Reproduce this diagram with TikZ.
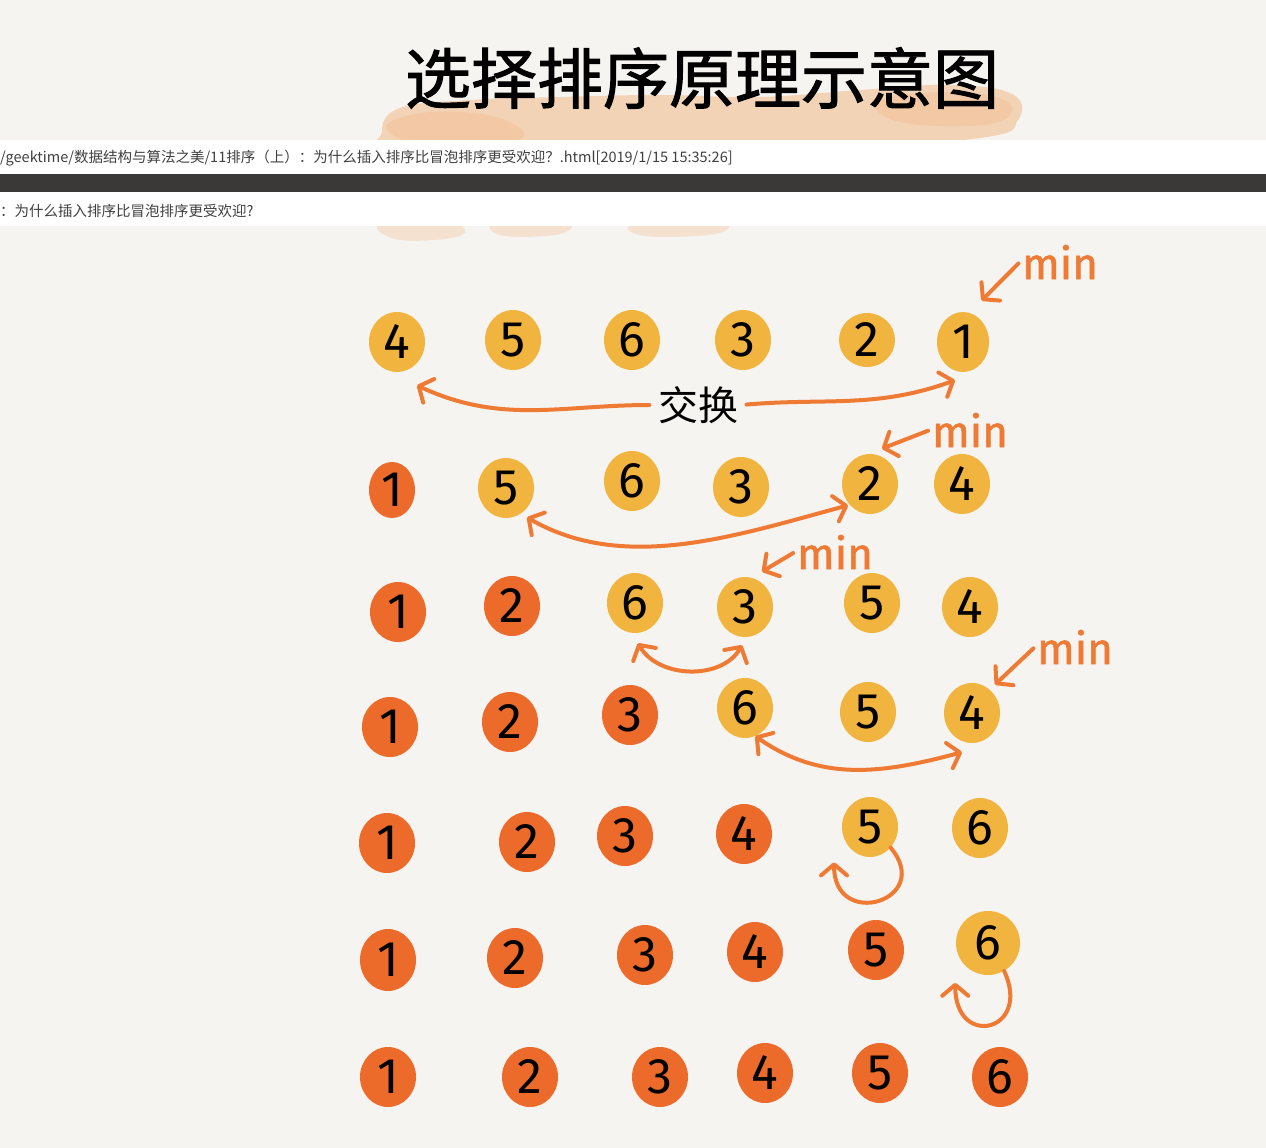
\documentclass[tikz,border=0pt]{standalone}
\usepackage{fontspec}
\usepackage{tikz}
\usetikzlibrary{shapes.geometric,arrows.meta}
\newfontfamily\cjk{Noto Sans CJK SC}
\newfontfamily\titlefont[FakeBold=1.5]{Noto Sans CJK SC}
\newfontfamily\handfont{Fira Sans}
\newfontfamily\minfont[FakeBold=1.2]{Fira Sans}
\definecolor{paper}{HTML}{F6F4F1}
\definecolor{ball}{HTML}{F1B53F}
\definecolor{ballred}{HTML}{EC6B2B}
\definecolor{pen}{HTML}{EE7A34}
\definecolor{brush}{HTML}{F2BE90}
\definecolor{bar}{HTML}{3B3938}
\definecolor{hdrtext}{HTML}{404040}

\begin{document}
\begin{tikzpicture}[x=1pt,y=1pt,
  todo/.style={ellipse,fill=ball,inner sep=0pt,minimum width=56pt,minimum height=60pt,font={\handfont\fontsize{50}{50}\selectfont}},
  done/.style={todo,fill=ballred},
  minlabel/.style={text=pen,inner sep=2pt,font={\minfont\fontsize{44}{44}\selectfont}},
  arr/.style={draw=pen,line width=4pt,line cap=round,-{Straight Barb[length=11pt,width=26pt,round]}},
  dbl/.style={arr,{Straight Barb[length=11pt,width=26pt,round]}-{Straight Barb[length=11pt,width=26pt,round]}}]
\fill[paper] (0,0) rectangle (1266,-1148);
\useasboundingbox (0,0) rectangle (1266,-1148);
% brush under title:
\fill[brush,opacity=.6] plot[smooth cycle,tension=.7] coordinates {(382,-132) (400,-108) (470,-100) (560,-97) (660,-95) (760,-97) (860,-90) (950,-85) (1012,-94) (1018,-120) (980,-138) (800,-150) (600,-150) (400,-150)};
\fill[brush,opacity=.45] plot[smooth cycle,tension=.7] coordinates {(386,-128) (430,-112) (500,-118) (520,-140) (440,-150)};
\fill[brush,opacity=.45] plot[smooth cycle,tension=.7] coordinates {(880,-100) (960,-92) (1010,-104) (990,-124) (900,-122)};
\fill[brush,opacity=.35] plot[smooth cycle,tension=.7] coordinates {(380,-224) (450,-222) (460,-236) (400,-240)};
\fill[brush,opacity=.35] plot[smooth cycle,tension=.7] coordinates {(495,-224) (565,-222) (560,-234) (505,-236)};
\fill[brush,opacity=.35] plot[smooth cycle,tension=.7] coordinates {(635,-224) (720,-222) (715,-234) (645,-236)};
\node[font={\titlefont\fontsize{66}{66}\selectfont}] (title) at (702,-78) {选择排序原理示意图};
% page header:
\fill[white] (0,-140) rectangle (1266,-174);\fill[bar] (0,-174) rectangle (1266,-192);\fill[white] (0,-192) rectangle (1266,-226);
\node[anchor=west,inner sep=0pt,text=hdrtext,font={\cjk\fontsize{14.5}{14.5}\selectfont}] (hdr1) at (0,-158) {/geektime/数据结构与算法之美/11排序（上）：为什么插入排序比冒泡排序更受欢迎？.html[2019/1/15 15:35:26]};
\node[anchor=west,inner sep=0pt,text=hdrtext,font={\cjk\fontsize{14.5}{14.5}\selectfont}] (hdr2) at (0,-211) {：为什么插入排序比冒泡排序更受欢迎?};
% row 1:
\node[todo] (a1) at (397,-342) {4};\node[todo] (a2) at (513,-340) {5};\node[todo] (a3) at (632,-340) {6};
\node[todo] (a4) at (743,-340) {3};\node[todo,minimum height=54pt] (a5) at (867,-340) {2};\node[todo,minimum width=52pt] (a6) at (963,-342) {1};
\node[font={\cjk\fontsize{40}{40}\selectfont}] (jh) at (698,-405) {交换};
\draw[arr,shorten <=5pt] (jh.west) to[out=180,in=-25] ([yshift=-22pt]a1.south east);\draw[arr,shorten <=5pt] (jh.east) to[out=5,in=200] ([shift={(-8,-8)}]a6.south);
\node[minlabel] (m1) at (1060,-262) {min};\draw[arr,shorten <=2pt] (m1.west) -- ([yshift=20pt]a6.north east);
% row 2:
\node[done,minimum width=46pt,minimum height=56pt] (b1) at (392,-490) {1};\node[todo] (b2) at (506,-488) {5};\node[todo] (b3) at (632,-481) {6};
\node[todo] (b4) at (741,-487) {3};\node[todo] (b5) at (870,-484) {2};\node[todo] (b6) at (962,-484) {4};
\draw[dbl] ([shift={(1,-8)}]b2.south east) to[out=-30,in=195,looseness=.9] ([shift={(-2,0)}]b5.south west);
\node[minlabel] (m2) at (970,-430) {min};\draw[arr,shorten <=2pt] (m2.west) -- ([shift={(-8,14)}]b5.north east);
% row 3:
\node[done] (c1) at (398,-612) {1};\node[done] (c2) at (512,-606) {2};\node[todo] (c3) at (635,-603) {6};
\node[todo] (c4) at (745,-607) {3};\node[todo] (c5) at (872,-603) {5};\node[todo] (c6) at (970,-607) {4};
\draw[dbl] ([shift={(3,-10)}]c3.south) to[out=-60,in=-120] ([shift={(-3,-8)}]c4.south);
\node[minlabel] (m3) at (835,-552) {min};\draw[arr,shorten <=2pt] (m3.west) -- ([shift={(-3,14)}]c4.north east);
% row 4:
\node[done] (d1) at (390,-727) {1};\node[done] (d2) at (510,-722) {2};\node[done] (d3) at (630,-715) {3};
\node[todo] (d4) at (745,-708) {6};\node[todo] (d5) at (868,-712) {5};\node[todo] (d6) at (972,-713) {4};
\draw[dbl] (d4.-70) to[out=-35,in=195] ([shift={(-10,-9)}]d6.south);
\node[minlabel] (m4) at (1075,-647) {min};\draw[arr,shorten <=2pt] (m4.west) -- ([shift={(3,7)}]d6.north east);
% row 5:
\node[done] (e1) at (387,-843) {1};\node[done] (e2) at (527,-842) {2};\node[done] (e3) at (625,-836) {3};
\node[done] (e4) at (744,-834) {4};\node[todo] (e5) at (870,-827) {5};\node[todo] (e6) at (980,-828) {6};
\draw[arr] (e5.-45) to[out=-50,in=-90,looseness=3] ([shift={(-16,-14)}]e5.south west);
% row 6:
\node[done,minimum height=62pt] (f1) at (388,-960) {1};\node[done] (f2) at (515,-958) {2};\node[done] (f3) at (645,-955) {3};
\node[done] (f4) at (755,-952) {4};\node[done] (f5) at (876,-950) {5};\node[todo,minimum width=64pt,minimum height=64pt] (f6) at (988,-943) {6};
\draw[arr] (f6.-60) to[out=-65,in=-90,looseness=3.4] ([shift={(-10,-17)}]f6.south west);
% row 7:
\node[done] (g1) at (388,-1077) {1};\node[done] (g2) at (530,-1077) {2};\node[done] (g3) at (660,-1077) {3};
\node[done] (g4) at (765,-1073) {4};\node[done] (g5) at (880,-1073) {5};\node[done] (g6) at (1000,-1077) {6};
\end{tikzpicture}
\end{document}
